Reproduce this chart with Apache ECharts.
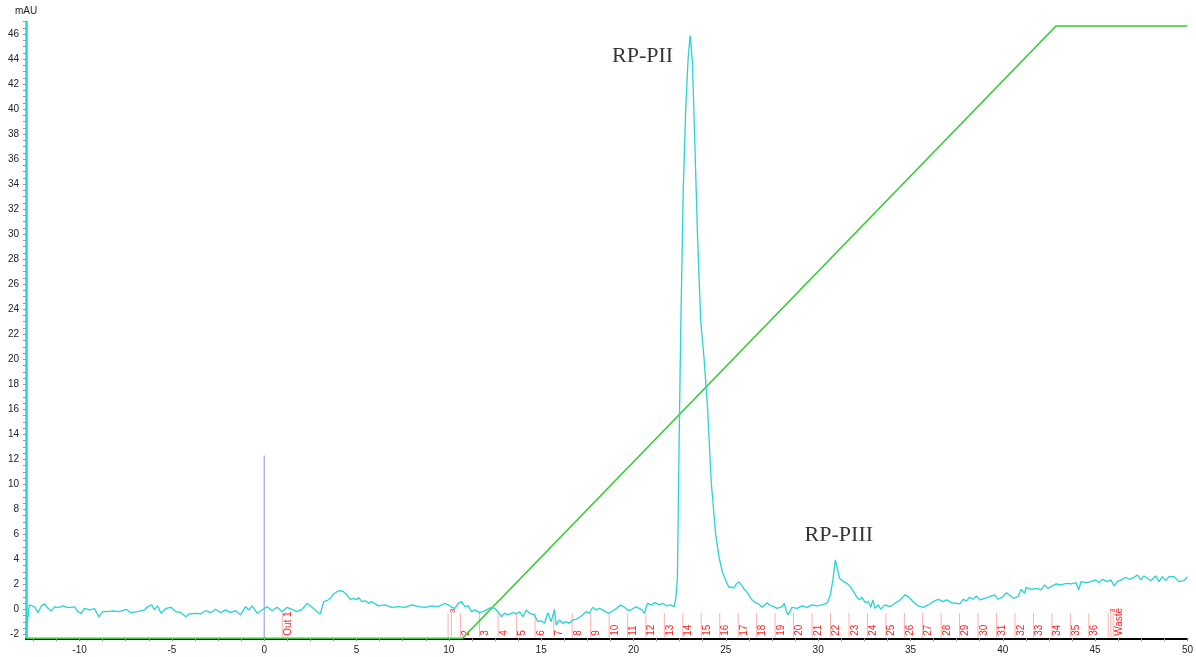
<!DOCTYPE html>
<html>
<head>
<meta charset="utf-8">
<script src="https://cdn.jsdelivr.net/npm/echarts@6/dist/echarts.min.js"></script>
<style>
html,body{margin:0;padding:0;background:#fff;}
#chart{width:1196px;height:657px;}
</style>
</head>
<body>
<div id="chart"></div>
<script>
// ---- Data (time in min, absorbance in mAU) ----
const xLabelValues = [-10, -5, 0, 5, 10, 15, 20, 25, 30, 35, 40, 45, 50];
const yLabelValues = [-2, 0, 2, 4, 6, 8, 10, 12, 14, 16, 18, 20, 22, 24, 26, 28, 30, 32, 34, 36, 38, 40, 42, 44, 46];

const uvTrace = [
[-12.9,-2.0],[-12.72,0.35],[-12.43,0.2],[-12.25,-0.27],[-12.07,0.27],[-11.89,0.43],[-11.71,0.08],[-11.53,-0.13],[-11.35,0.2],[-11.17,0.13],
[-10.9,0.27],[-10.63,0.13],[-10.27,0.2],[-10.09,-0.19],[-9.91,-0.32],[-9.73,0.08],[-9.46,-0.05],[-9.19,0.05],[-8.96,-0.59],[-8.74,-0.19],
[-8.47,-0.19],[-8.2,-0.13],[-7.84,-0.19],[-7.48,0.0],[-7.21,-0.27],[-6.85,-0.19],[-6.49,-0.05],[-6.31,0.21],[-6.08,0.35],[-5.95,-0.05],
[-5.77,0.27],[-5.59,-0.32],[-5.32,0.08],[-5.05,0.16],[-4.78,-0.19],[-4.51,-0.27],[-4.24,-0.59],[-4.07,-0.37],[-3.71,-0.32],[-3.44,-0.37],
[-3.17,-0.11],[-2.9,-0.27],[-2.63,0.0],[-2.36,-0.27],[-2.09,-0.05],[-1.82,-0.27],[-1.55,-0.11],[-1.28,-0.45],[-1.01,0.21],[-0.83,-0.05],
[-0.65,0.27],[-0.38,-0.32],[-0.11,-0.05],[0.16,0.21],[0.43,-0.11],[0.7,0.16],[0.97,-0.19],[1.24,0.16],[1.51,0.0],[1.78,-0.19],
[2.05,0.0],[2.32,0.48],[2.59,0.16],[2.86,-0.19],[3.04,-0.37],[3.22,0.61],[3.4,0.69],[3.58,0.88],[3.76,1.23],[3.94,1.41],
[4.12,1.49],[4.3,1.41],[4.48,1.15],[4.66,0.8],[4.84,0.88],[5.02,0.75],[5.11,0.96],[5.29,0.61],[5.47,0.69],[5.65,0.48],
[5.83,0.61],[6.01,0.43],[6.19,0.27],[6.55,0.35],[6.91,0.16],[7.27,0.21],[7.63,0.16],[7.99,0.35],[8.35,0.21],[8.71,0.16],
[9.07,0.27],[9.43,0.21],[9.79,0.48],[9.97,0.35],[10.15,0.16],[10.33,0.08],[10.51,0.48],[10.69,0.61],[10.87,0.21],[11.05,0.27],
[11.23,-0.19],[11.41,-0.05],[11.68,-0.27],[11.85,-0.19],[12.03,-0.05],[12.3,0.16],[12.48,0.08],[12.66,-0.19],[12.84,-0.59],[13.02,-0.32],
[13.2,-0.45],[13.47,-0.27],[13.65,-0.37],[13.83,-0.19],[14.01,-0.59],[14.19,-0.05],[14.37,-0.32],[14.64,-0.45],[14.82,-0.99],[15.0,-0.91],
[15.18,-1.12],[15.36,-0.27],[15.54,-0.99],[15.72,0.0],[15.81,-1.25],[15.99,-0.85],[16.17,-1.12],[16.35,-0.99],[16.53,-1.12],[16.71,-0.85],
[16.89,-0.8],[17.07,-0.64],[17.25,-0.45],[17.43,-0.19],[17.61,-0.32],[17.79,0.16],[17.97,-0.05],[18.16,0.08],[18.47,-0.19],[18.68,-0.32],
[18.89,-0.11],[19.1,0.08],[19.3,0.35],[19.51,0.16],[19.72,-0.11],[19.93,0.0],[20.13,0.21],[20.45,-0.05],[20.59,-0.32],[20.76,0.48],
[20.96,0.35],[21.17,0.53],[21.38,0.35],[21.59,0.48],[21.79,0.27],[22.0,0.35],[22.21,0.21],[22.3,1.0],[22.38,2.6],[22.47,13.3],
[22.56,22.5],[22.69,33.3],[22.83,40.1],[22.96,44.1],[23.07,45.9],[23.19,43.8],[23.31,37.9],[23.46,30.2],[23.64,23.1],[23.82,20.1],
[24.0,16.4],[24.21,10.2],[24.45,6.0],[24.63,4.2],[24.81,3.0],[25.0,2.3],[25.17,1.75],[25.3,1.8],[25.44,1.7],[25.58,2.05],
[25.71,2.2],[25.85,1.95],[26.0,1.6],[26.16,1.35],[26.3,1.0],[26.43,0.75],[26.6,0.55],[26.8,0.4],[26.97,0.16],[27.1,0.35],
[27.24,0.53],[27.4,0.3],[27.51,0.27],[27.78,0.08],[28.05,0.21],[28.17,0.48],[28.28,-0.19],[28.37,-0.45],[28.59,0.16],[28.86,0.08],
[29.13,0.27],[29.4,0.16],[29.67,0.35],[29.94,0.27],[30.21,0.35],[30.48,0.48],[30.66,1.15],[30.8,2.35],[30.93,3.95],[31.02,3.41],
[31.16,2.48],[31.38,2.21],[31.56,2.08],[31.74,1.81],[31.92,1.41],[32.1,0.96],[32.24,0.75],[32.37,0.96],[32.55,0.53],[32.72,0.61],
[32.85,0.16],[32.96,0.75],[33.08,0.08],[33.26,0.35],[33.39,0.0],[33.62,0.35],[33.89,0.21],[34.16,0.48],[34.43,0.75],[34.7,1.15],
[34.88,1.01],[35.15,0.61],[35.42,0.27],[35.69,0.16],[35.96,0.35],[36.23,0.61],[36.5,0.8],[36.77,0.61],[36.95,0.75],[37.22,0.53],
[37.49,0.48],[37.67,0.43],[37.85,0.8],[38.03,0.67],[38.21,0.96],[38.39,0.8],[38.57,1.07],[38.75,0.75],[39.02,0.88],[39.29,1.01],
[39.56,1.15],[39.74,0.8],[40.01,1.01],[40.19,1.33],[40.37,1.12],[40.58,0.88],[40.82,1.01],[41.0,1.6],[41.18,1.28],[41.27,1.76],
[41.54,1.6],[41.81,1.68],[42.08,1.55],[42.26,1.95],[42.44,1.68],[42.62,1.81],[42.89,2.03],[43.16,1.95],[43.43,2.08],[43.7,2.03],
[43.97,2.13],[44.11,1.55],[44.24,2.21],[44.51,2.13],[44.78,2.21],[45.04,2.35],[45.22,2.13],[45.4,2.4],[45.67,2.21],[45.85,2.35],
[46.03,1.87],[46.21,2.21],[46.48,2.4],[46.66,2.56],[46.84,2.4],[47.11,2.56],[47.29,2.75],[47.47,2.35],[47.65,2.67],[47.83,2.48],
[48.01,2.29],[48.28,2.67],[48.46,2.21],[48.64,2.61],[48.82,2.29],[49.0,2.61],[49.27,2.61],[49.54,2.21],[49.81,2.29],[50.0,2.61]
];

const gradientPoints = [[-12.9, -2.32], [10.74, -2.32], [42.88, 46.66], [50, 46.66]];
const injectionLine = [[0, -2.32], [0, 12.3]];

const fractionTimes = [0.98, 10.14, 10.63, 11.66, 12.67, 13.67, 14.67, 15.68, 16.68, 17.68, 18.68, 19.68, 20.67, 21.67, 22.67, 23.67,
  24.67, 25.67, 26.67, 27.67, 28.67, 29.67, 30.67, 31.67, 32.67, 33.67, 34.67, 35.66, 36.66, 37.66, 38.66, 39.66, 40.66, 41.66,
  42.66, 43.66, 44.66, 45.86, 45.98];
const fractionLabels = ['Out 1', '', '2', '3', '4', '5', '6', '7', '8', '9', '10', '11', '12', '13', '14', '15',
  '16', '17', '18', '19', '20', '21', '22', '23', '24', '25', '26', '27', '28', '29', '30', '31', '32', '33',
  '34', '35', '36', '', 'Waste'];
const eventTimes = [9.96, 45.71];
const eventLabels = ['3', '3'];

const peakNames = ['RP-PII', 'RP-PIII'];
const peakLabelAt = [[20.49, 44.26], [31.12, 5.94]];

// ---- Axis ranges ----
const X_MIN = -12.9, X_MAX = 50;
const Y_MIN = -2.32, Y_MAX = 47;
const FRACTION_TOP = -0.3;

const xTicks = [];
for (let v = -12.5; v <= 50.001; v += 1.25) xTicks.push(+v.toFixed(2));
const yTicks = [];
for (let v = -2; v <= 47.001; v += 0.5) yTicks.push(+v.toFixed(2));

const CYAN = '#26d4d6';
const GREEN = '#33cc33';
const FONT = '"Liberation Sans", Arial, sans-serif';

const chart = echarts.init(document.getElementById('chart'), null, {renderer: 'canvas'});

function fractionRender(params, api) {
  const t = api.value(0);
  const isEvent = api.value(2) === 1;
  const label = isEvent ? eventLabels[api.value(1)] : fractionLabels[api.value(1)];
  const top = api.coord([t, FRACTION_TOP]);
  const bot = api.coord([t, Y_MIN]);
  const children = [{
    type: 'line',
    shape: {x1: top[0], y1: top[1], x2: bot[0], y2: bot[1] - 1},
    style: {stroke: '#ffb0b0', lineWidth: 1}
  }];
  if (label) {
    children.push({
      type: 'text',
      x: top[0] + 0.8,
      y: isEvent ? top[1] : bot[1] - 2.5,
      rotation: Math.PI / 2,
      style: {
        text: label,
        fill: '#f22',
        font: (isEvent ? '8px ' : '10px ') + FONT,
        align: 'left',
        verticalAlign: 'top'
      }
    });
  }
  return {type: 'group', children: children};
}

const fractionData = fractionTimes.map((t, i) => [t, i, 0]).concat(eventTimes.map((t, i) => [t, i, 1]));

const option = {
  animation: false,
  backgroundColor: '#fff',
  grid: {left: 26, right: 4.2, top: 21.7, bottom: 18.7, containLabel: false},
  xAxis: {
    type: 'value', min: X_MIN, max: X_MAX,
    axisLine: {show: true, onZero: false, lineStyle: {color: '#000', width: 2}},
    axisTick: {show: true, customValues: xTicks, length: 3, lineStyle: {color: '#999', width: 1}},
    axisLabel: {customValues: xLabelValues, fontSize: 10, color: '#222', margin: 7, fontFamily: FONT},
    splitLine: {show: false}
  },
  yAxis: {
    type: 'value', min: Y_MIN, max: Y_MAX,
    name: 'mAU', nameLocation: 'end', nameGap: 5,
    nameTextStyle: {fontSize: 10, color: '#222', fontFamily: FONT},
    axisLine: {show: true, onZero: false, lineStyle: {color: CYAN, width: 2.5}},
    axisTick: {show: true, customValues: yTicks, length: 3, lineStyle: {color: '#999', width: 1}},
    axisLabel: {customValues: yLabelValues, fontSize: 10, color: '#222', margin: 7, fontFamily: FONT},
    splitLine: {show: false}
  },
  series: [
    {
      name: 'Fractions', type: 'custom', renderItem: fractionRender,
      data: fractionData, z: 2, silent: true, clip: false
    },
    {
      name: 'Injection', type: 'line', data: injectionLine, showSymbol: false,
      lineStyle: {color: '#8f8ff2', width: 1}, z: 3, silent: true
    },
    {
      name: 'Gradient', type: 'line', data: gradientPoints, showSymbol: false,
      lineStyle: {color: GREEN, width: 1.6}, z: 4, silent: true, clip: false
    },
    {
      name: 'UV', type: 'line', data: uvTrace, showSymbol: false,
      lineStyle: {color: CYAN, width: 1.3}, z: 5, silent: true
    },
    {
      name: 'Peaks', type: 'scatter', symbolSize: 0, z: 6, silent: true,
      data: peakLabelAt.map((p, i) => ({value: p, name: peakNames[i]})),
      label: {
        show: true, position: 'inside', formatter: '{b}',
        fontFamily: '"Liberation Serif", "Times New Roman", serif', fontSize: 22, color: '#000'
      }
    }
  ]
};
chart.setOption(option);
</script>
</body>
</html>
